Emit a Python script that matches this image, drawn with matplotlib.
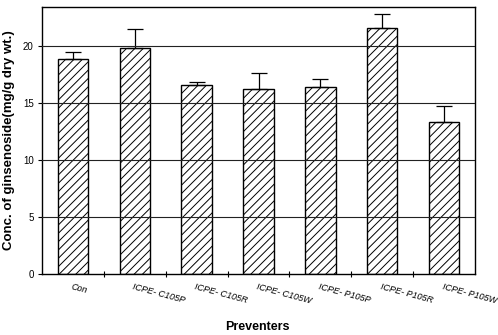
import matplotlib
matplotlib.use("Agg")
import matplotlib.pyplot as plt
import numpy as np

plt.rcParams['font.family'] = ['Liberation Sans', 'DejaVu Sans']
plt.rcParams['hatch.linewidth'] = 0.7

categories = ["Con", "ICPE- C105P", "ICPE- C105R", "ICPE- C105W",
              "ICPE- P105P", "ICPE- P105R", "ICPE- P105W"]
means = [18.85, 19.8, 16.55, 16.2, 16.35, 21.55, 13.3]
errors = [0.6, 1.65, 0.3, 1.45, 0.7, 1.25, 1.45]
y_ticks = [0, 5, 10, 15, 20]

fig = plt.figure(figsize=(4.98, 3.35), dpi=100)
ax = fig.add_axes([42 / 498, 1 - 274 / 335, 433 / 498, 267 / 335])

x = np.arange(len(categories))
ax.bar(x, means, width=0.49, color='white', edgecolor='black',
       linewidth=1.0, hatch='////', zorder=2)
ax.errorbar(x, means, yerr=[np.zeros(len(errors)), errors], fmt='none',
            ecolor='black', elinewidth=0.9, capsize=6, capthick=0.9, zorder=3)

for yv in y_ticks[1:]:
    ax.axhline(yv, color='#222222', linewidth=0.8, zorder=4)

ax.set_xlim(-0.5, len(categories) - 0.5)
ax.set_ylim(0, 23.4)
ax.set_yticks(y_ticks)
ax.set_yticklabels([str(v) for v in y_ticks], fontsize=7)
ax.tick_params(axis='y', direction='out', length=3, width=0.8, pad=3)

# ticks sit between categories; labels placed separately under each bar
ax.set_xticks(x[:-1] + 0.5)
ax.set_xticklabels([])
ax.tick_params(axis='x', direction='inout', length=5, width=0.8)
for xi, name in zip(x, categories):
    ax.text(xi - 0.01, -0.75, name, rotation=-15, rotation_mode='anchor',
            ha='left', va='top', fontsize=6.5, style='italic',
            transform=ax.transData, clip_on=False)

for side in ['left', 'bottom', 'right', 'top']:
    ax.spines[side].set_linewidth(1.0)

ax.set_ylabel("Conc. of ginsenoside(mg/g dry wt.)", fontsize=9.5,
              fontweight='bold', labelpad=6)
fig.text(257 / 498, 1 - 327 / 335, "Preventers", ha='center', va='center',
         fontsize=9, fontweight='bold')

fig.savefig("out.png", dpi=100)
